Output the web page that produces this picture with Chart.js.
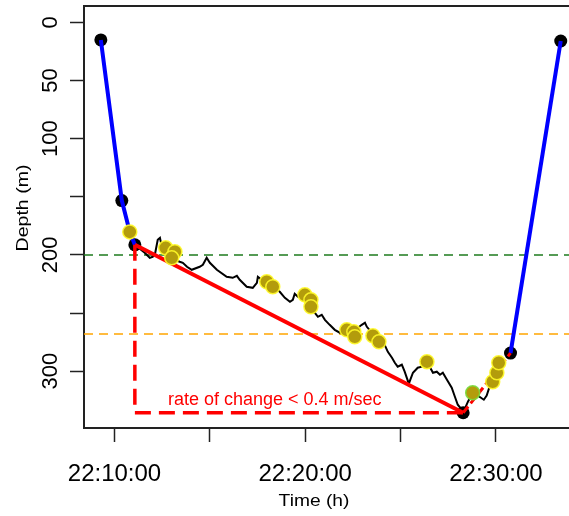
<!doctype html>
<html lang="en">
<head>
<meta charset="utf-8">
<title>Dive depth profile</title>
<style>
  html,body{margin:0;padding:0;background:#fff;overflow:hidden}
  .wrap{position:relative;width:569px;height:516px}
</style>
</head>
<body>
<div class="wrap"><canvas id="chart"></canvas></div>
<script src="https://cdn.jsdelivr.net/npm/chart.js@4.4.1/dist/chart.umd.min.js"></script>
<script>
// depth trace at the bottom phase (black line)
const traceTimes = ['22:11:04','22:11:35','22:11:51','22:12:00','22:12:07','22:12:16','22:12:23','22:12:32','22:12:54','22:13:25',
  '22:13:35','22:13:48','22:14:03','22:14:28','22:14:38','22:14:50','22:15:00','22:15:22','22:15:53','22:16:12',
  '22:16:25','22:16:34','22:16:56','22:17:15','22:17:28','22:17:31','22:17:43','22:18:02','22:18:24','22:18:40',
  '22:18:56','22:19:12','22:19:21','22:19:27','22:19:37','22:19:59','22:20:18','22:20:30','22:20:40','22:20:52',
  '22:21:02','22:21:17','22:21:33','22:21:49','22:21:58','22:22:20','22:22:46','22:22:58','22:23:08','22:23:14',
  '22:23:33','22:23:55','22:24:10','22:24:20','22:24:33','22:24:42','22:24:51','22:25:04','22:25:13','22:25:26',
  '22:25:39','22:25:54','22:26:07','22:26:23','22:26:42','22:26:54','22:27:04','22:27:13','22:27:26','22:27:41',
  '22:27:51','22:28:00','22:28:13','22:28:17','22:28:32','22:28:47','22:29:03','22:29:13','22:29:22','22:29:31',
  '22:29:38','22:29:50'];
const traceDepths = [191.3,198.2,202.5,201.6,199.9,187.0,185.3,197.2,202.5,205.9,
  206.8,210.2,212.8,210.2,208.5,202.5,206.8,212.8,218.8,219.7,
  218.0,221.4,227.4,228.3,224.0,218.8,221.4,224.0,228.3,231.7,
  236.9,240.3,238.6,233.4,236.0,236.0,242.9,249.7,253.2,251.5,
  255.8,260.1,264.4,266.9,267.8,266.9,262.6,260.1,258.3,261.8,
  267.8,274.7,277.3,283.3,288.4,292.7,296.1,294.4,300.4,310.7,
  301.3,297.0,296.1,291.8,301.3,300.4,303.0,301.3,307.3,314.2,
  321.9,328.8,333.1,335.7,326.2,318.5,321.0,322.8,324.5,321.0,
  315.0,309.0];

// key points (black dots): surface, descent, bottom start, deepest, bottom end, surface
const keyTimes = ['22:09:17','22:10:23','22:11:04','22:28:17','22:30:46','22:33:24'];
const keyDepths = [15.2,153.3,191.3,335.7,284.4,16.1];

// flagged points (yellow)
const flagTimes = ['22:10:48','22:12:41','22:13:10','22:13:00','22:17:59','22:18:18','22:19:59','22:20:18','22:20:18','22:22:11',
  '22:22:33','22:22:36','22:23:33','22:23:52','22:26:23','22:28:47','22:29:50','22:30:03','22:30:09'];
const flagDepths = [180.2,193.9,197.3,202.5,223.1,227.4,234.3,238.6,244.6,264.4,
  266.1,270.4,269.5,274.7,291.8,318.5,309.0,301.3,292.7];

const greenDepth = 200;
const orangeDepth = 268;

const xTickTimes = ['22:10:00','22:15:00','22:20:00','22:25:00','22:30:00'];
const xTickLabels = ['22:10:00','','22:20:00','','22:30:00'];
const yTickValues = [0,50,100,150,200,250,300];
const yTickLabels = ['0','50','100','','200','','300'];
const noteText = 'rate of change < 0.4 m/sec';
const noteAt = ['22:12:48', 329];

(function(){
  const sec = s => { const p = s.split(':').map(Number); return p[0]*3600 + p[1]*60 + p[2]; };
  const pts = (ts, ds) => ts.map((t,i)=>({x:sec(t), y:ds[i]}));
  const xMin = 79704, xMax = 81230;
  const FONT = '"Liberation Sans", Arial, sans-serif';

  const key = pts(keyTimes, keyDepths);
  const flag = pts(flagTimes, flagDepths);

  const blueDown = [key[0], key[1], flag[0], key[2]];
  const blueUp = [key[4], key[5]];
  const redSlope = [key[2], key[3]];
  const redL = [key[2], {x:key[2].x, y:key[3].y}, key[3]];
  const redUp = [key[3], key[4]];

  const flagBorder = flagTimes.map(t => t === '22:28:47' ? 'rgba(120,220,60,0.9)' : 'rgba(255,250,40,0.9)');

  const lineBase = { showLine:true, pointRadius:0, tension:0, fill:false };
  const datasets = [
    { ...lineBase, data:[{x:xMin,y:greenDepth},{x:xMax,y:greenDepth}], borderColor:'#1E7B1E', borderWidth:1.5, borderDash:[9,6], order:9 },
    { ...lineBase, data:[{x:xMin,y:orangeDepth},{x:xMax,y:orangeDepth}], borderColor:'#FFA500', borderWidth:1.5, borderDash:[9,6], order:9 },
    { ...lineBase, data:pts(traceTimes, traceDepths), borderColor:'#000', borderWidth:2, order:8 },
    { data:key, showLine:false, pointRadius:6.5, pointBackgroundColor:'#000', pointBorderColor:'#000', pointBorderWidth:0, order:7 },
    { ...lineBase, data:blueDown, borderColor:'#0000FF', borderWidth:4, order:6 },
    { ...lineBase, data:blueUp, borderColor:'#0000FF', borderWidth:4, order:6 },
    { ...lineBase, data:redL, borderColor:'#FF0000', borderWidth:3.5, borderDash:[16,8], order:5 },
    { ...lineBase, data:redSlope, borderColor:'#FF0000', borderWidth:4, order:5 },
    { ...lineBase, data:redUp, borderColor:'#FF0000', borderWidth:3, borderDash:[8,4], order:5 },
    { data:flag, showLine:false, pointRadius:7, pointBackgroundColor:'#B39C0C', pointBorderColor:flagBorder, pointBorderWidth:1.5, order:1 }
  ];

  const rLabels = {
    id:'rLabels',
    afterDraw(chart){
      const ctx = chart.ctx, ca = chart.chartArea;
      const xs = chart.scales.x, ys = chart.scales.y;
      ctx.save();
      // top of the box
      ctx.strokeStyle = '#222'; ctx.lineWidth = 2;
      ctx.beginPath(); ctx.moveTo(ca.left, ca.top); ctx.lineTo(ca.right, ca.top); ctx.stroke();

      ctx.fillStyle = '#000';
      // y tick labels, rotated
      ctx.font = '22px ' + FONT; ctx.textAlign = 'center'; ctx.textBaseline = 'alphabetic';
      yTickValues.forEach((v,i)=>{
        if (!yTickLabels[i]) return;
        ctx.save();
        ctx.translate(49.5, ys.getPixelForValue(v));
        ctx.rotate(-Math.PI/2);
        ctx.fillText(yTickLabels[i], 0, 22*0.358);
        ctx.restore();
      });
      // x tick labels
      ctx.font = '24px ' + FONT;
      xTickTimes.forEach((t,i)=>{
        if (!xTickLabels[i]) return;
        ctx.fillText(xTickLabels[i], xs.getPixelForValue(sec(t)), 472 + 24*0.358);
      });
      // axis titles
      ctx.font = '17px ' + FONT;
      ctx.save(); ctx.translate(314, 506); ctx.scale(1.13, 1); ctx.fillText('Time (h)', 0, 0); ctx.restore();
      ctx.save(); ctx.translate(28, 208); ctx.rotate(-Math.PI/2); ctx.scale(1.15, 1); ctx.fillText('Depth (m)', 0, 0); ctx.restore();
      // note
      ctx.fillStyle = '#FF0000'; ctx.font = '18px ' + FONT; ctx.textAlign = 'left';
      ctx.fillText(noteText, xs.getPixelForValue(sec(noteAt[0])), ys.getPixelForValue(noteAt[1]));
      ctx.restore();
    }
  };

  const axisGrid = { display:true, drawOnChartArea:false, drawTicks:true, tickLength:14, tickWidth:1.5, tickColor:'#222' };

  new Chart(document.getElementById('chart'), {
    type:'scatter',
    data:{ datasets },
    options:{
      responsive:true, maintainAspectRatio:false, animation:false,
      layout:{ autoPadding:false, padding:{ top:6, right:0, bottom:0, left:0 } },
      plugins:{ legend:{display:false}, tooltip:{enabled:false} },
      elements:{ point:{ hoverRadius:0 } },
      scales:{
        x:{
          type:'linear', min:xMin, max:xMax,
          afterBuildTicks: s => { s.ticks = xTickTimes.map(t=>({value:sec(t)})); },
          afterFit: s => { s.height = 88; },
          grid:axisGrid, border:{display:true, color:'#222', width:2},
          ticks:{display:false}
        },
        y:{
          type:'linear', reverse:true, min:-14, max:348.8,
          afterBuildTicks: s => { s.ticks = yTickValues.map(v=>({value:v})); },
          afterFit: s => { s.width = 84; },
          grid:axisGrid, border:{display:true, color:'#222', width:2},
          ticks:{display:false}
        }
      }
    },
    plugins:[rLabels]
  });
})();
</script>
</body>
</html>
